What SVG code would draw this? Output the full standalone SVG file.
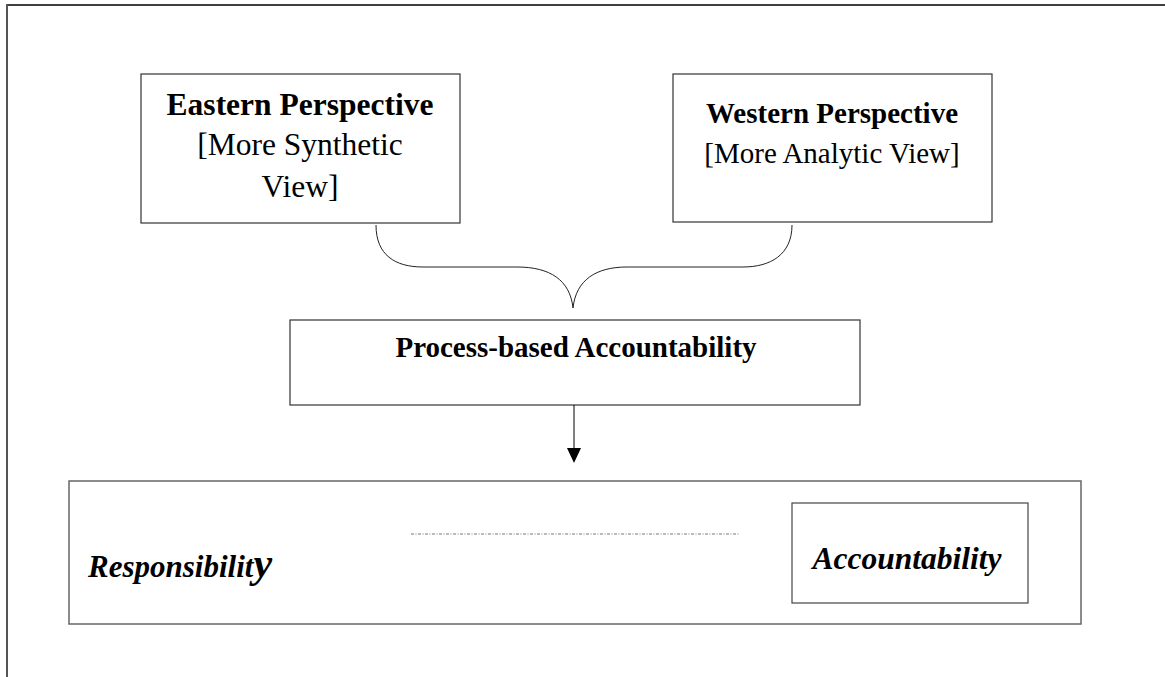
<svg xmlns="http://www.w3.org/2000/svg" width="1165" height="677" viewBox="0 0 1165 677">
<style>
.box{fill:#fff;stroke:#333;stroke-width:1.2}
.t{font-family:"Liberation Serif","Times New Roman",serif;fill:#000;text-anchor:middle}
.b{font-weight:bold}
.bi{font-weight:bold;font-style:italic}
.conn{fill:none;stroke:#222;stroke-width:1}
</style>
<rect width="1165" height="677" fill="#fff"/>
<g id="frame">
<line x1="7" y1="5" x2="1165" y2="5" stroke="#000" stroke-width="1.5"/>
<line x1="7" y1="4" x2="7" y2="677" stroke="#555" stroke-width="2"/>
</g>
<g id="eastern">
<rect class="box" x="141" y="74" width="319" height="149"/>
<text class="t b" x="300" y="115" font-size="31.5">Eastern Perspective</text>
<text class="t" x="300" y="155" font-size="31.5">[More Synthetic</text>
<text class="t" x="300" y="197" font-size="31.5">View]</text>
</g>
<g id="western">
<rect class="box" x="673" y="74" width="319" height="148"/>
<text class="t b" x="832" y="123" font-size="29">Western Perspective</text>
<text class="t" x="832" y="163" font-size="29">[More Analytic View]</text>
</g>
<g id="process">
<rect class="box" x="290" y="320" width="570" height="85"/>
<text class="t b" x="576" y="357" font-size="29">Process-based Accountability</text>
</g>
<g id="outcome">
<rect x="69" y="481" width="1012" height="143" fill="#fff" stroke="#666" stroke-width="1.5"/>
<text x="88" y="577" font-family="'Liberation Serif','Times New Roman',serif" font-weight="bold" font-style="italic" font-size="31">Responsibilit<tspan font-size="42">y</tspan></text>
<line x1="411" y1="534" x2="740" y2="534" stroke="#777" stroke-width="1" stroke-dasharray="3,1.5,1,1.5"/>
</g>
<g id="accountability">
<rect x="792" y="503" width="236" height="100" fill="#fff" stroke="#444" stroke-width="1.2"/>
<text class="t bi" x="907" y="569" font-size="31.5">Accountability</text>
</g>
<g id="connectors">
<path class="conn" d="M376,225 C376,255 395,267 423,267 L517,267 C550,267 570,280 573,308 C576,280 596,267 627,267 L743,267 C770,267 792,255 792,225"/>
<line x1="574" y1="405" x2="574" y2="449" stroke="#000" stroke-width="1"/>
<path d="M567,448 L581,448 L574,463 Z" fill="#000"/>
</g>
</svg>
